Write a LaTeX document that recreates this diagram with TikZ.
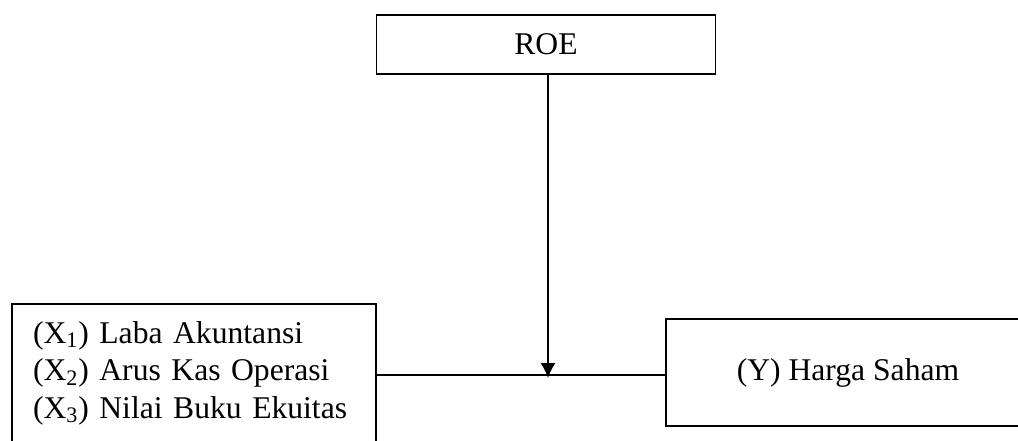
\documentclass[tikz,border=0pt]{standalone}
\usepackage{fontspec}
\setmainfont{Liberation Serif}
\usetikzlibrary{arrows.meta}
\begin{document}
\begin{tikzpicture}[x=0.02cm, y=-0.02cm, font=\fontsize{18}{21.4}\selectfont,
          >={Latex[length=0.3cm,width=0.3cm]}, line width=0.8pt,
          box/.style={draw, rectangle, align=center, inner sep=0pt},
          varbox/.style={box, align=left, text width=6.44cm, inner xsep=0.42cm, minimum height=2.76cm}]
        \useasboundingbox (0,0) rectangle (1018,440);
        \clip (0,0) rectangle (1018,440);
        \node[box, minimum width=6.78cm, minimum height=1.18cm] (roe) at (546,44.5) {ROE};
        \node[varbox] (xvar) at (194,373) {(X\textsubscript{1}) Laba Akuntansi\\(X\textsubscript{2}) Arus Kas Operasi\\(X\textsubscript{3}) Nilai Buku Ekuitas};
        \node[box, minimum width=7.28cm, minimum height=2.14cm] (harga) at (848,372.5) {(Y) Harga Saham};
        \coordinate (mid) at (548,375);
        \draw (xvar.east |- mid) -- (harga.west |- mid);
        \draw[->] (roe.south -| mid) -- ([yshift=-0.06cm]mid);
      \end{tikzpicture}
\end{document}
